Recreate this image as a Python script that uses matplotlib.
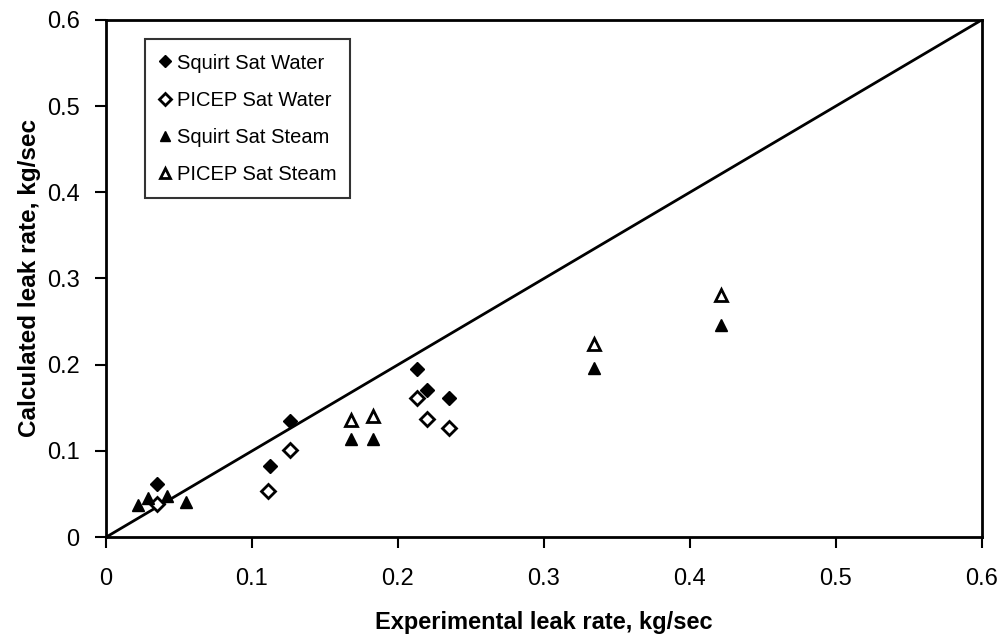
import numpy as np
import matplotlib
matplotlib.use('Agg')
import matplotlib.pyplot as plt

plt.rcParams['font.family'] = ['Liberation Sans', 'DejaVu Sans']

# data (kg/sec)
squirt_water_x = [0.035, 0.112, 0.126, 0.213, 0.220, 0.235]
squirt_water_y = [0.062, 0.083, 0.135, 0.195, 0.171, 0.161]

picep_water_x = [0.035, 0.111, 0.126, 0.213, 0.220, 0.235]
picep_water_y = [0.038, 0.053, 0.101, 0.161, 0.137, 0.127]

squirt_steam_x = [0.022, 0.029, 0.042, 0.055, 0.168, 0.183, 0.334, 0.421]
squirt_steam_y = [0.037, 0.046, 0.048, 0.041, 0.114, 0.114, 0.196, 0.246]

picep_steam_x = [0.168, 0.183, 0.334, 0.421]
picep_steam_y = [0.136, 0.140, 0.224, 0.281]

ticks = [0, 0.1, 0.2, 0.3, 0.4, 0.5, 0.6]
tick_labels = ['0', '0.1', '0.2', '0.3', '0.4', '0.5', '0.6']

fig = plt.figure(figsize=(10, 6.38), dpi=100)
ax = fig.add_axes([0.106, 0.158, 0.876, 0.811])

# 1:1 line
ax.plot([0, 0.6], [0, 0.6], color='black', linewidth=2)

ax.plot(squirt_water_x, squirt_water_y, linestyle='none', marker='D', markersize=7.5,
        markerfacecolor='black', markeredgecolor='black', label='Squirt Sat Water')
ax.plot(picep_water_x, picep_water_y, linestyle='none', marker='D', markersize=7.5,
        markerfacecolor='white', markeredgecolor='black', markeredgewidth=2, label='PICEP Sat Water')
ax.plot(squirt_steam_x, squirt_steam_y, linestyle='none', marker='^', markersize=9,
        markerfacecolor='black', markeredgecolor='black', label='Squirt Sat Steam')
ax.plot(picep_steam_x, picep_steam_y, linestyle='none', marker='^', markersize=9,
        markerfacecolor='white', markeredgecolor='black', markeredgewidth=2, label='PICEP Sat Steam')

ax.set_xlim(0, 0.6)
ax.set_ylim(0, 0.6)
ax.set_xticks(ticks)
ax.set_xticklabels(tick_labels)
ax.set_yticks(ticks)
ax.set_yticklabels(tick_labels)
ax.tick_params(direction='out', length=8, width=1.5, labelsize=17)
ax.tick_params(axis='x', pad=14)
ax.tick_params(axis='y', pad=11)
for s in ax.spines.values():
    s.set_linewidth(2)

ax.set_xlabel('Experimental leak rate, kg/sec', fontsize=17, fontweight='bold', labelpad=15)
ax.set_ylabel('Calculated leak rate, kg/sec', fontsize=17.5, fontweight='bold', labelpad=4)

leg = ax.legend(loc='upper left', bbox_to_anchor=(0.044, 0.962), fontsize=14.5,
                frameon=True, fancybox=False, markerscale=0.75, handlelength=0.6,
                handletextpad=0.3, labelspacing=0.9, borderpad=0.7, borderaxespad=0)
leg.get_frame().set_edgecolor('black')
leg.get_frame().set_linewidth(1.5)

fig.savefig('out.png', dpi=100)
